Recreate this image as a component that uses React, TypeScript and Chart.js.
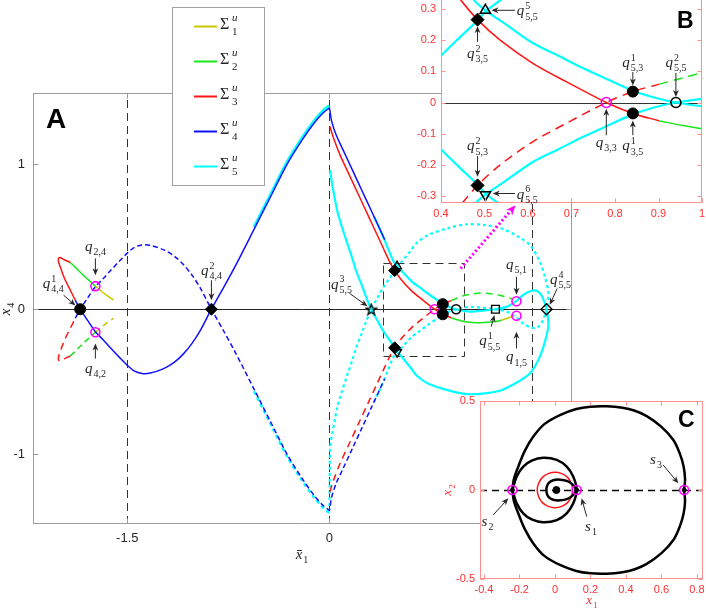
import React, { useEffect, useRef } from 'react';
import { Chart, registerables } from 'chart.js';

Chart.register(...registerables);

type Pt = [number, number];

// ================= Panel A : axes =================
const A_X_RANGE = [-2.2, 1.8];
const A_Y_RANGE = [-1.48, 1.49];
const A_X_TICKS = [-1.5, 0, 1.5];
const A_Y_TICKS = [-1, 0, 1];
const A_VLINES = [-1.5, 0, 1.5];
const A_ZOOM_BOX = [0.4, 1.0, -0.32, 0.32];

// legend
const SIGMA_INDEX = ['1', '2', '3', '4', '5'];
const SIGMA_COLORS = ['#c8c800', '#19e619', '#ff1414', '#1010ff', '#00ffff'];
const MAGENTA = '#ff00ff';

// ================= Panel A : curves (x̄1, x4) =================
// Σ1 (yellow)
const S1_SOLID_LEFT: Pt[] = [[-1.737, 0.159], [-1.69, 0.122], [-1.645, 0.09], [-1.601, 0.062]];
const S1_DASH_LEFT: Pt[] = [[-1.737, -0.159], [-1.69, -0.122], [-1.645, -0.09], [-1.601, -0.062]];
const S1_SOLID_RIGHT: Pt[] = [[1.28, -0.075], [1.32, -0.062], [1.36, -0.05]];

// Σ2 (green)
const S2_SOLID_LEFT: Pt[] = [[-1.923, 0.322], [-1.88, 0.283], [-1.83, 0.238], [-1.78, 0.195], [-1.737, 0.159]];
const S2_DASH_LEFT: Pt[] = [[-1.923, -0.322], [-1.88, -0.283], [-1.83, -0.238], [-1.78, -0.195], [-1.737, -0.159]];
const S2_SOLID_RIGHT: Pt[] = [[0.902, -0.059], [0.956, -0.074], [1.0, -0.084], [1.06, -0.091], [1.121, -0.094], [1.18, -0.09], [1.245, -0.083], [1.28, -0.075]];
const S2_DASH_RIGHT: Pt[] = [[0.902, 0.059], [0.956, 0.079], [1.0, 0.095], [1.06, 0.106], [1.121, 0.111], [1.18, 0.109], [1.245, 0.101], [1.3, 0.088], [1.355, 0.072]];

// Σ3 (red)
const S3_CAP_SOLID: Pt[] = [[-1.923, 0.322], [-1.973, 0.343], [-2.0, 0.356], [-2.012, 0.345], [-2.008, 0.32], [-1.997, 0.29], [-1.98, 0.245], [-1.96, 0.2], [-1.923, 0.131], [-1.886, 0.062]];
const S3_CAP_DASH: Pt[] = [[-1.923, -0.322], [-1.973, -0.343], [-2.0, -0.356], [-2.012, -0.345], [-2.008, -0.32], [-1.997, -0.29], [-1.98, -0.245], [-1.96, -0.2], [-1.923, -0.131], [-1.886, -0.062]];
const S3_SOLID_RIGHT: Pt[] = [[0.003, 1.26], [0.03, 1.18], [0.08, 1.06], [0.15, 0.92], [0.22, 0.78], [0.29, 0.64], [0.35, 0.52], [0.4, 0.42], [0.445, 0.33], [0.484, 0.266], [0.536, 0.2], [0.612, 0.125], [0.689, 0.066], [0.78, 0], [0.841, -0.035], [0.902, -0.059]];
const S3_DASH_RIGHT: Pt[] = [[0.003, -1.26], [0.03, -1.18], [0.08, -1.06], [0.15, -0.92], [0.22, -0.78], [0.29, -0.64], [0.35, -0.52], [0.4, -0.42], [0.445, -0.33], [0.484, -0.266], [0.536, -0.2], [0.612, -0.125], [0.689, -0.066], [0.78, 0], [0.841, 0.035], [0.902, 0.059]];

// Σ4 (blue)
const S4_SOLID: Pt[] = [[-1.886, 0.062], [-1.85, 0], [-1.8, -0.07], [-1.737, -0.155], [-1.68, -0.21], [-1.626, -0.265], [-1.56, -0.33], [-1.502, -0.385], [-1.45, -0.425], [-1.391, -0.443], [-1.33, -0.44], [-1.23, -0.409], [-1.15, -0.365], [-1.082, -0.306], [-1.02, -0.235], [-0.958, -0.145], [-0.876, 0], [-0.785, 0.15], [-0.7, 0.295], [-0.56, 0.55], [-0.44, 0.77], [-0.314, 1.0], [-0.2, 1.17], [-0.116, 1.28], [-0.05, 1.35], [-0.01, 1.38], [0, 1.384], [0.015, 1.3], [0.05, 1.2], [0.1, 1.1], [0.17, 0.96], [0.24, 0.82], [0.31, 0.68], [0.37, 0.56], [0.41, 0.48]];
const S4_DASH: Pt[] = [[-1.886, -0.062], [-1.85, 0], [-1.8, 0.07], [-1.737, 0.155], [-1.68, 0.21], [-1.626, 0.265], [-1.56, 0.33], [-1.502, 0.385], [-1.45, 0.425], [-1.391, 0.443], [-1.33, 0.44], [-1.23, 0.409], [-1.15, 0.365], [-1.082, 0.306], [-1.02, 0.235], [-0.958, 0.145], [-0.876, 0], [-0.785, -0.15], [-0.7, -0.295], [-0.56, -0.55], [-0.44, -0.77], [-0.314, -1.0], [-0.2, -1.17], [-0.116, -1.28], [-0.05, -1.35], [-0.01, -1.38], [0, -1.384], [0.015, -1.3], [0.05, -1.2], [0.1, -1.1], [0.17, -0.96], [0.24, -0.82], [0.31, -0.68], [0.37, -0.56], [0.41, -0.48]];

// Σ5 (cyan)
const S5_HUMP_SOLID: Pt[] = [[-0.56, 0.565], [-0.44, 0.785], [-0.314, 1.015], [-0.2, 1.185], [-0.116, 1.295], [-0.05, 1.365], [-0.01, 1.398], [0, 1.4]];
const S5_HUMP_DASH: Pt[] = [[-0.56, -0.565], [-0.44, -0.785], [-0.314, -1.015], [-0.2, -1.185], [-0.116, -1.295], [-0.05, -1.365], [-0.01, -1.398], [0, -1.4]];
const S5_LOOP_SOLID: Pt[] = [[0.33, 0.64], [0.38, 0.54], [0.43, 0.43], [0.475, 0.33], [0.502, 0.296], [0.55, 0.25], [0.612, 0.19], [0.67, 0.15], [0.727, 0.11], [0.79, 0.07], [0.841, 0.038], [0.89, 0.016], [0.94, 0], [1.0, -0.012], [1.047, -0.016], [1.12, -0.012], [1.232, 0], [1.319, 0.018], [1.388, 0.057], [1.44, 0.1], [1.5, 0.127], [1.542, 0.126], [1.58, 0.085], [1.611, 0], [1.625, -0.11], [1.6, -0.22], [1.56, -0.33], [1.49, -0.44], [1.4, -0.5], [1.27, -0.56], [1.15, -0.58], [1.02, -0.585], [0.883, -0.559], [0.735, -0.513], [0.65, -0.46], [0.6, -0.4], [0.536, -0.328], [0.502, -0.292], [0.484, -0.263], [0.44, -0.205], [0.4, -0.15], [0.36, -0.085], [0.31, 0], [0.27, 0.09], [0.24, 0.166], [0.2, 0.26], [0.166, 0.361], [0.13, 0.46], [0.092, 0.568], [0.06, 0.67], [0.042, 0.752], [0.02, 0.86], [0.005, 0.959]];
const S5_LOOP_DASH: Pt[] = [[0.33, -0.64], [0.38, -0.54], [0.43, -0.43], [0.475, -0.33], [0.502, -0.296], [0.55, -0.25], [0.612, -0.19], [0.67, -0.15], [0.727, -0.11], [0.79, -0.07], [0.841, -0.038], [0.89, -0.016], [0.94, 0], [1.0, 0.012], [1.047, 0.016], [1.12, 0.012], [1.232, 0], [1.319, -0.018], [1.388, -0.057], [1.44, -0.1], [1.5, -0.127], [1.542, -0.126], [1.58, -0.085], [1.611, 0], [1.625, 0.11], [1.6, 0.22], [1.56, 0.33], [1.49, 0.44], [1.4, 0.5], [1.27, 0.56], [1.15, 0.58], [1.02, 0.585], [0.883, 0.559], [0.735, 0.513], [0.65, 0.46], [0.6, 0.4], [0.536, 0.328], [0.502, 0.292], [0.484, 0.263], [0.44, 0.205], [0.4, 0.15], [0.36, 0.085], [0.31, 0], [0.27, -0.09], [0.24, -0.166], [0.2, -0.26], [0.166, -0.361], [0.13, -0.46], [0.092, -0.568], [0.06, -0.67], [0.042, -0.752], [0.02, -0.86], [0.005, -0.959], [0.002, -1.18], [0, -1.38]];

// ================= Special points =================
const PTS_FILLED_CIRCLE: Pt[] = [[-1.85, 0], [0.841, 0.035], [0.841, -0.035]];
const PTS_FILLED_DIAMOND: Pt[] = [[-0.876, 0], [0.484, 0.266], [0.484, -0.266]];
const PTS_MAGENTA: Pt[] = [[-1.737, 0.159], [-1.737, -0.159], [0.78, 0], [1.388, 0.055], [1.388, -0.045]];
const PTS_OPEN_CIRCLE: Pt[] = [[0.94, 0]];
const PTS_OPEN_SQUARE: Pt[] = [[1.232, 0]];
const PTS_OPEN_DIAMOND: Pt[] = [[1.611, 0]];
const PTS_STAR: Pt[] = [[0.31, 0]];
const PTS_TRI_UP: Pt[] = [[0.502, 0.296]];
const PTS_TRI_DOWN: Pt[] = [[0.502, -0.296]];

// ================= Panel B : axes =================
const B_X_RANGE = [0.4, 1.0];
const B_Y_RANGE = [-0.3225, 0.329];
const B_X_TICKS = [0.4, 0.5, 0.6, 0.7, 0.8, 0.9, 1.0];
const B_Y_TICKS = [-0.3, -0.2, -0.1, 0, 0.1, 0.2, 0.3];

// ================= Panel C : (x1, x2) =================
const C_X_RANGE = [-0.4225, 0.834];
const C_Y_RANGE = [-0.5, 0.5];
const C_X_TICKS = [-0.4, -0.2, 0, 0.2, 0.4, 0.6, 0.8];
const C_Y_TICKS = [-0.5, 0, 0.5];
const C_OUTER: Pt[] = [[-0.24, 0], [-0.232, 0.06], [-0.207, 0.131], [-0.17, 0.22], [-0.122, 0.3], [-0.06, 0.37], [0.028, 0.421], [0.12, 0.455], [0.2, 0.468], [0.291, 0.47], [0.38, 0.462], [0.45, 0.445], [0.517, 0.415], [0.6, 0.355], [0.667, 0.281], [0.705, 0.2], [0.725, 0.131], [0.733, 0.06], [0.728, 0], [0.733, -0.06], [0.725, -0.131], [0.705, -0.2], [0.667, -0.281], [0.6, -0.355], [0.517, -0.415], [0.45, -0.445], [0.38, -0.462], [0.291, -0.47], [0.2, -0.468], [0.12, -0.455], [0.028, -0.421], [-0.06, -0.37], [-0.122, -0.3], [-0.17, -0.22], [-0.207, -0.131], [-0.232, -0.06], [-0.24, 0]];
const C_MIDDLE: Pt[] = [[-0.24, 0], [-0.216, 0.075], [-0.179, 0.131], [-0.131, 0.165], [-0.066, 0.181], [0.01, 0.169], [0.066, 0.131], [0.103, 0.075], [0.122, 0], [0.103, -0.075], [0.066, -0.131], [0.01, -0.169], [-0.066, -0.181], [-0.131, -0.165], [-0.179, -0.131], [-0.216, -0.075], [-0.24, 0]];
const C_INNER: Pt[] = [[0.122, 0], [0.1, 0.03], [0.07, 0.05], [0.03, 0.058], [-0.01, 0.055], [-0.035, 0.04], [-0.047, 0.015], [-0.047, -0.015], [-0.035, -0.04], [-0.01, -0.055], [0.03, -0.058], [0.07, -0.05], [0.1, -0.03], [0.122, 0]];
const C_RED_CIRCLE: Pt[] = [[0.1, 0], [0.092, 0.038], [0.071, 0.071], [0.038, 0.092], [0, 0.1], [-0.038, 0.092], [-0.071, 0.071], [-0.092, 0.038], [-0.1, 0], [-0.092, -0.038], [-0.071, -0.071], [-0.038, -0.092], [0, -0.1], [0.038, -0.092], [0.071, -0.071], [0.092, -0.038], [0.1, 0]];
const C_SADDLES: Pt[] = [[0.122, 0], [-0.24, 0], [0.728, 0]];
const C_CENTER: Pt[] = [[0.008, 0]];

// ================= annotations (data coordinates) =================
const A_NOTES = [
  { b: 'q', sup: '1', sub: '4,4', at: [-2.05, 0.17], from: [-1.973, 0.097], to: [-1.885, 0.026] },
  { b: 'q', sup: '', sub: '2,4', at: [-1.737, 0.428], from: [-1.737, 0.35], to: [-1.737, 0.234] },
  { b: 'q', sup: '', sub: '4,2', at: [-1.737, -0.414], from: [-1.737, -0.34], to: [-1.737, -0.237] },
  { b: 'q', sup: '2', sub: '4,4', at: [-0.876, 0.262], from: [-0.876, 0.2], to: [-0.876, 0.062] },
  { b: 'q', sup: '3', sub: '5,5', at: [0.089, 0.166], from: [0.148, 0.11], to: [0.282, 0.021] },
  { b: 'q', sup: '', sub: '5,1', at: [1.388, 0.3], from: [1.388, 0.223], to: [1.388, 0.1] },
  { b: 'q', sup: '', sub: '1,5', at: [1.388, -0.335], from: [1.388, -0.27], to: [1.388, -0.155] },
  { b: 'q', sup: '1', sub: '5,5', at: [1.19, -0.225], from: [1.2, -0.12], to: [1.225, -0.04] },
  { b: 'q', sup: '4', sub: '5,5', at: [1.715, 0.2], from: [1.69, 0.143], to: [1.635, 0.03] },
];
const A_ZOOM_ARROW = { from: [0.973, 0.28], to: [1.381, 0.717] };
const B_NOTES = [
  { b: 'q', sup: '5', sub: '5,5', at: [0.598, 0.291], from: [0.57, 0.296], to: [0.516, 0.296] },
  { b: 'q', sup: '2', sub: '3,5', at: [0.484, 0.155], from: [0.484, 0.195], to: [0.484, 0.245] },
  { b: 'q', sup: '1', sub: '5,3', at: [0.841, 0.125], from: [0.841, 0.098], to: [0.841, 0.055] },
  { b: 'q', sup: '2', sub: '5,5', at: [0.94, 0.125], from: [0.94, 0.095], to: [0.94, 0.018] },
  { b: 'q', sup: '', sub: '3,3', at: [0.78, -0.132], from: [0.78, -0.105], to: [0.78, -0.02] },
  { b: 'q', sup: '1', sub: '3,5', at: [0.841, -0.142], from: [0.841, -0.105], to: [0.841, -0.058] },
  { b: 'q', sup: '2', sub: '5,3', at: [0.484, -0.142], from: [0.484, -0.172], to: [0.484, -0.238] },
  { b: 'q', sup: '6', sub: '5,5', at: [0.598, -0.297], from: [0.57, -0.292], to: [0.519, -0.292] },
];
const C_NOTES = [
  { b: 's', sup: '', sub: '3', at: [0.569, 0.169], from: [0.61, 0.14], to: [0.695, 0.038] },
  { b: 's', sup: '', sub: '2', at: [-0.38, -0.18], from: [-0.348, -0.14], to: [-0.263, -0.047] },
  { b: 's', sup: '', sub: '1', at: [0.203, -0.208], from: [0.179, -0.15], to: [0.15, -0.047] },
];

// ================= helpers =================
const SERIF = '"Liberation Serif", "DejaVu Serif", serif';
const SANS = '"Liberation Sans", Arial, sans-serif';
const TXT = '#262626';

const P = (a: Pt[]) => a.map(([x, y]) => ({ x, y }));

function curve(data: Pt[], color: string, width: number, dash: number[] = [], order = 5, tension = 0.3) {
  return {
    data: P(data), showLine: true, borderColor: color, backgroundColor: color,
    borderWidth: width, borderDash: dash, pointRadius: 0, pointHoverRadius: 0, pointHitRadius: 0,
    tension, order, fill: false, borderJoinStyle: 'round',
  };
}
function marks(data: Pt[], style: any, radius: number, fill: string, stroke: string, bw: number, order = 0, rotation = 0) {
  return {
    data: P(data), showLine: false, pointStyle: style, pointRadius: radius, pointHoverRadius: radius,
    pointBackgroundColor: fill, pointBorderColor: stroke, pointBorderWidth: bw, pointRotation: rotation, order,
  };
}
const fmt = (v: number) => String(Math.round(v * 100) / 100).replace(/^-0$/, '0');

function mkScale(range: number[], ticks: number[], o: any) {
  return {
    type: 'linear', position: o.pos, min: range[0], max: range[1],
    grid: { display: false, drawTicks: false }, border: { display: false },
    ticks: { autoSkip: false, maxRotation: 0, minRotation: 0, padding: o.pad, color: o.color, font: { family: SANS, size: o.size }, callback: (v: number) => fmt(v) },
    afterBuildTicks: (s: any) => { s.ticks = ticks.map((value) => ({ value })); },
    afterFit: (s: any) => {
      if (o.w != null) s.width = o.w;
      if (o.h != null) s.height = o.h;
      s.paddingLeft = 0; s.paddingRight = 0; s.paddingTop = 0; s.paddingBottom = 0;
    },
  };
}

function drawMath(ctx: CanvasRenderingContext2D, cx: number, cy: number, b: string, sup: string, sub: string, color = TXT, bs = 15, ss = 10, baseStyle = 'italic ') {
  ctx.save();
  ctx.fillStyle = color;
  ctx.textAlign = 'left';
  ctx.textBaseline = 'alphabetic';
  const supFont = `${/[a-z]/.test(sup) ? 'italic ' : ''}${ss}px ${SERIF}`;
  const subFont = `${ss}px ${SERIF}`;
  ctx.font = `${baseStyle}${bs}px ${SERIF}`;
  const wb = ctx.measureText(b).width;
  ctx.font = supFont;
  const wsup = sup ? ctx.measureText(sup).width : 0;
  ctx.font = subFont;
  const wsub = sub ? ctx.measureText(sub).width : 0;
  const ws = Math.max(wsup, wsub);
  const x0 = cx - (wb + 1 + ws) / 2;
  const bl = cy + bs * 0.24;
  ctx.font = `${baseStyle}${bs}px ${SERIF}`;
  ctx.fillText(b, x0, bl);
  if (sup) { ctx.font = supFont; ctx.fillText(sup, x0 + wb + 1, bl - bs * 0.42); }
  if (sub) { ctx.font = subFont; ctx.fillText(sub, x0 + wb + 1, bl + bs * 0.28); }
  ctx.restore();
}

function drawArrow(ctx: CanvasRenderingContext2D, x0: number, y0: number, x1: number, y1: number, color = TXT, lw = 1, dash: number[] | null = null, head = 7) {
  const a = Math.atan2(y1 - y0, x1 - x0);
  const c = Math.cos(a), s = Math.sin(a);
  ctx.save();
  ctx.strokeStyle = color; ctx.fillStyle = color; ctx.lineWidth = lw;
  ctx.setLineDash(dash || []);
  ctx.beginPath(); ctx.moveTo(x0, y0); ctx.lineTo(x1 - c * head * 0.6, y1 - s * head * 0.6); ctx.stroke();
  ctx.setLineDash([]);
  const w = head * 0.42;
  const bx = x1 - c * head, by = y1 - s * head;
  const ix = x1 - c * head * 0.7, iy = y1 - s * head * 0.7;
  ctx.beginPath();
  ctx.moveTo(x1, y1);
  ctx.lineTo(bx - s * w, by + c * w);
  ctx.lineTo(ix, iy);
  ctx.lineTo(bx + s * w, by - c * w);
  ctx.closePath(); ctx.fill();
  ctx.restore();
}

function drawFrame(chart: any, color: string, xt: number[], yt: number[], len: number, sides: string) {
  const { ctx, chartArea: ca } = chart;
  const x = chart.scales.x, y = chart.scales.y;
  const L = Math.round(ca.left) + 0.5, R = Math.round(ca.right) - 0.5, T = Math.round(ca.top) + 0.5, B = Math.round(ca.bottom) - 0.5;
  ctx.save();
  ctx.strokeStyle = color; ctx.lineWidth = 1; ctx.setLineDash([]);
  ctx.beginPath();
  if (sides.includes('l')) { ctx.moveTo(L, T - 0.5); ctx.lineTo(L, B + 0.5); }
  if (sides.includes('r')) { ctx.moveTo(R, T - 0.5); ctx.lineTo(R, B + 0.5); }
  if (sides.includes('t')) { ctx.moveTo(L, T); ctx.lineTo(R, T); }
  if (sides.includes('b')) { ctx.moveTo(L, B); ctx.lineTo(R, B); }
  for (const v of xt) {
    const px = Math.round(x.getPixelForValue(v)) + 0.5;
    if (px < L - 1 || px > R + 1) continue;
    ctx.moveTo(px, B); ctx.lineTo(px, B - len);
    if (sides.includes('t')) { ctx.moveTo(px, T); ctx.lineTo(px, T + len); }
  }
  for (const v of yt) {
    const py = Math.round(y.getPixelForValue(v)) + 0.5;
    if (py < T - 1 || py > B + 1) continue;
    ctx.moveTo(L, py); ctx.lineTo(L + len, py);
    if (sides.includes('r')) { ctx.moveTo(R, py); ctx.lineTo(R - len, py); }
  }
  ctx.stroke();
  ctx.restore();
}

function drawNotes(chart: any, notes: any[], bs = 15, ss = 10) {
  const { ctx } = chart;
  const x = chart.scales.x, y = chart.scales.y;
  for (const n of notes) {
    drawArrow(ctx, x.getPixelForValue(n.from[0]), y.getPixelForValue(n.from[1]), x.getPixelForValue(n.to[0]), y.getPixelForValue(n.to[1]), TXT, 1, null, 7);
    drawMath(ctx, x.getPixelForValue(n.at[0]), y.getPixelForValue(n.at[1]), n.b, n.sup, n.sub, TXT, bs, ss);
  }
}

function whiteArea(chart: any) {
  const { ctx, chartArea: ca } = chart;
  ctx.save(); ctx.fillStyle = '#ffffff';
  ctx.fillRect(ca.left, ca.top, ca.right - ca.left, ca.bottom - ca.top);
  ctx.restore();
}

function makeStar(size = 13) {
  const c = document.createElement('canvas');
  c.width = size; c.height = size;
  const g = c.getContext('2d')!;
  const cx = size / 2, cy = size / 2 + 0.6, R = size / 2 - 0.8, r = R * 0.42;
  g.beginPath();
  for (let i = 0; i < 10; i++) {
    const ang = -Math.PI / 2 + (i * Math.PI) / 5;
    const rr = i % 2 === 0 ? R : r;
    g.lineTo(cx + rr * Math.cos(ang), cy + rr * Math.sin(ang));
  }
  g.closePath(); g.lineWidth = 1.3; g.strokeStyle = '#000'; g.stroke();
  return c;
}

const baseOptions = (padding: any, scales: any) => ({
  responsive: false, animation: false, events: [],
  layout: { padding, autoPadding: false },
  plugins: { legend: { display: false }, tooltip: { enabled: false } },
  scales,
});

// ================= Panel A =================
function configA(star: HTMLCanvasElement) {
  const [Y, G, R, Bl, C] = SIGMA_COLORS;
  const datasets = [
    marks(PTS_FILLED_CIRCLE, 'circle', 5.5, '#000', '#000', 1, 0),
    marks(PTS_FILLED_DIAMOND, 'rectRot', 6, '#000', '#000', 1, 0),
    marks(PTS_MAGENTA, 'circle', 4.5, 'rgba(0,0,0,0)', MAGENTA, 1.6, 0),
    marks(PTS_OPEN_CIRCLE, 'circle', 4.5, 'rgba(0,0,0,0)', '#000', 1.6, 0),
    marks(PTS_OPEN_SQUARE, 'rect', 5.5, 'rgba(0,0,0,0)', '#000', 1.4, 0),
    marks(PTS_OPEN_DIAMOND, 'rectRot', 5.5, 'rgba(0,0,0,0)', '#000', 1.4, 0),
    marks(PTS_STAR, star, 6, '#000', '#000', 1, 0),
    marks(PTS_TRI_UP, 'triangle', 5, 'rgba(0,0,0,0)', '#000', 1.4, 0),
    marks(PTS_TRI_DOWN, 'triangle', 5, 'rgba(0,0,0,0)', '#000', 1.4, 0, 180),
    curve(S4_SOLID, Bl, 1.5, [], 1),
    curve(S4_DASH, Bl, 1.5, [5, 3], 1),
    curve(S3_CAP_SOLID, R, 1.5, [], 2),
    curve(S3_CAP_DASH, R, 1.5, [7, 5], 2),
    curve(S3_SOLID_RIGHT, R, 1.5, [], 2),
    curve(S3_DASH_RIGHT, R, 1.5, [7, 5], 2),
    curve(S2_SOLID_LEFT, G, 1.5, [], 3),
    curve(S2_DASH_LEFT, G, 1.5, [6, 4], 3),
    curve(S2_SOLID_RIGHT, G, 1.5, [], 3),
    curve(S2_DASH_RIGHT, G, 1.5, [7, 5], 3),
    curve(S1_SOLID_LEFT, Y, 1.5, [], 3),
    curve(S1_DASH_LEFT, Y, 1.5, [6, 4], 3),
    curve(S1_SOLID_RIGHT, Y, 1.5, [], 3),
    curve(S5_HUMP_SOLID, C, 3, [], 4),
    curve(S5_HUMP_DASH, C, 2.5, [4, 3], 4),
    curve(S5_LOOP_SOLID, C, 2.2, [], 4),
    curve(S5_LOOP_DASH, C, 2.2, [3, 3], 4),
  ];
  const plugin = {
    id: 'panelA',
    beforeDatasetsDraw(chart: any) {
      const { ctx, chartArea: ca } = chart;
      const x = chart.scales.x, y = chart.scales.y;
      ctx.save();
      ctx.beginPath(); ctx.rect(ca.left, ca.top, ca.right - ca.left, ca.bottom - ca.top); ctx.clip();
      ctx.lineWidth = 1; ctx.strokeStyle = '#262626';
      const y0 = Math.round(y.getPixelForValue(0)) + 0.5;
      ctx.beginPath(); ctx.moveTo(ca.left, y0); ctx.lineTo(ca.right, y0); ctx.stroke();
      ctx.setLineDash([8, 5]); ctx.strokeStyle = '#333';
      ctx.beginPath();
      for (const v of A_VLINES) {
        const px = Math.round(x.getPixelForValue(v)) + 0.5;
        ctx.moveTo(px, ca.bottom); ctx.lineTo(px, ca.top);
      }
      ctx.stroke();
      const [bx0, bx1, by0, by1] = A_ZOOM_BOX;
      const l = Math.round(x.getPixelForValue(bx0)) + 0.5, r = Math.round(x.getPixelForValue(bx1)) + 0.5;
      const t = Math.round(y.getPixelForValue(by1)) + 0.5, b = Math.round(y.getPixelForValue(by0)) + 0.5;
      ctx.strokeRect(l, t, r - l, b - t);
      ctx.restore();
    },
    afterDatasetsDraw(chart: any) {
      const { ctx } = chart;
      const x = chart.scales.x, y = chart.scales.y;
      drawFrame(chart, '#9d9d9d', A_X_TICKS, A_Y_TICKS, 5, 'lrtb');
      drawNotes(chart, A_NOTES);
      drawArrow(ctx, x.getPixelForValue(A_ZOOM_ARROW.from[0]), y.getPixelForValue(A_ZOOM_ARROW.from[1]),
        x.getPixelForValue(A_ZOOM_ARROW.to[0]), y.getPixelForValue(A_ZOOM_ARROW.to[1]), MAGENTA, 3, [2, 2.5], 10);
    },
    afterDraw(chart: any) {
      const { ctx } = chart;
      // legend box
      ctx.save();
      ctx.fillStyle = '#fff'; ctx.fillRect(172, 7, 92, 178);
      ctx.strokeStyle = '#a0a0a0'; ctx.lineWidth = 1; ctx.strokeRect(172.5, 7.5, 92, 178);
      SIGMA_INDEX.forEach((s, i) => {
        const ly = 26 + 35 * i;
        ctx.strokeStyle = SIGMA_COLORS[i]; ctx.lineWidth = 2;
        ctx.beginPath(); ctx.moveTo(194, ly + 0.5); ctx.lineTo(217, ly + 0.5); ctx.stroke();
        ctx.fillStyle = TXT; ctx.textAlign = 'left'; ctx.textBaseline = 'alphabetic';
        ctx.font = `16px ${SERIF}`; ctx.fillText('Σ', 220, ly + 3);
        ctx.font = `italic 11px ${SERIF}`; ctx.fillText('u', 232, ly - 5);
        ctx.font = `11px ${SERIF}`; ctx.fillText(s, 232, ly + 9);
      });
      // panel letter
      ctx.fillStyle = '#000'; ctx.font = `bold 28px ${SANS}`; ctx.fillText('A', 46, 128);
      ctx.restore();
      // axis titles
      drawMath(ctx, 302, 555, 'x\u0304', '', '1', TXT, 15, 10);
      ctx.save(); ctx.translate(6, 309); ctx.rotate(-Math.PI / 2);
      drawMath(ctx, 0, 0, 'x', '', '4', TXT, 15, 10);
      ctx.restore();
    },
  };
  return {
    type: 'scatter',
    data: { datasets },
    options: baseOptions({ top: 93, right: 134, left: 0, bottom: 0 }, {
      x: mkScale(A_X_RANGE, A_X_TICKS, { pos: 'bottom', pad: 7, color: TXT, size: 13, h: 85 }),
      y: mkScale(A_Y_RANGE, A_Y_TICKS, { pos: 'left', pad: 8, color: TXT, size: 13, w: 33 }),
    }),
    plugins: [plugin],
  };
}

// ================= Panel B =================
const RED_AXIS = '#ff3030';
const RED_FRAME = '#ff9090';
function configB() {
  const [, G, R, , C] = SIGMA_COLORS;
  const datasets = [
    marks(PTS_FILLED_CIRCLE, 'circle', 5.5, '#000', '#000', 1, 0),
    marks(PTS_FILLED_DIAMOND, 'rectRot', 6.5, '#000', '#000', 1, 0),
    marks(PTS_MAGENTA, 'circle', 5, 'rgba(0,0,0,0)', MAGENTA, 1.6, 0),
    marks(PTS_OPEN_CIRCLE, 'circle', 5, 'rgba(0,0,0,0)', '#000', 1.6, 0),
    marks(PTS_TRI_UP, 'triangle', 6, 'rgba(0,0,0,0)', '#000', 1.5, 0),
    marks(PTS_TRI_DOWN, 'triangle', 6, 'rgba(0,0,0,0)', '#000', 1.5, 0, 180),
    curve(S3_SOLID_RIGHT, R, 1.5, [], 2),
    curve(S3_DASH_RIGHT, R, 1.5, [9, 6], 2),
    curve(S2_SOLID_RIGHT, G, 1.5, [], 3),
    curve(S2_DASH_RIGHT, G, 1.5, [9, 6], 3),
    curve(S5_LOOP_SOLID, C, 2.2, [], 4),
    curve(S5_LOOP_DASH, C, 2.2, [], 4),
  ];
  const plugin = {
    id: 'panelB',
    beforeDraw(chart: any) { whiteArea(chart); },
    beforeDatasetsDraw(chart: any) {
      const { ctx, chartArea: ca } = chart;
      const y0 = Math.round(chart.scales.y.getPixelForValue(0)) + 0.5;
      ctx.save(); ctx.strokeStyle = '#333'; ctx.lineWidth = 1;
      ctx.beginPath(); ctx.moveTo(ca.left, y0); ctx.lineTo(ca.right, y0); ctx.stroke(); ctx.restore();
    },
    afterDatasetsDraw(chart: any) {
      drawFrame(chart, RED_FRAME, B_X_TICKS, B_Y_TICKS, 4, 'lrb');
      drawNotes(chart, B_NOTES);
    },
    afterDraw(chart: any) {
      const { ctx } = chart;
      ctx.save(); ctx.fillStyle = '#000'; ctx.font = `bold 23px ${SANS}`; ctx.textBaseline = 'alphabetic';
      ctx.fillText('B', 277, 28); ctx.restore();
    },
  };
  return {
    type: 'scatter',
    data: { datasets },
    options: baseOptions({ top: 0, right: 4, left: 0, bottom: 0 }, {
      x: mkScale(B_X_RANGE, B_X_TICKS, { pos: 'bottom', pad: 4, color: RED_AXIS, size: 11, h: 22 }),
      y: mkScale(B_Y_RANGE, B_Y_TICKS, { pos: 'left', pad: 5, color: RED_AXIS, size: 11, w: 41 }),
    }),
    plugins: [plugin],
  };
}

// ================= Panel C =================
function configC() {
  const datasets = [
    marks(C_CENTER, 'circle', 3.5, '#000', '#000', 1, 0),
    marks(C_SADDLES, 'circle', 2, '#000', '#000', 1, 0),
    marks(C_SADDLES, 'circle', 4.5, 'rgba(0,0,0,0)', MAGENTA, 1.6, 1),
    curve(C_RED_CIRCLE, '#ff1414', 1.5, [], 3, 0.35),
    curve(C_INNER, '#000', 2.5, [], 2, 0.35),
    curve(C_MIDDLE, '#000', 2.5, [], 2, 0.35),
    curve(C_OUTER, '#000', 2.5, [], 2, 0.35),
  ];
  const plugin = {
    id: 'panelC',
    beforeDraw(chart: any) { whiteArea(chart); },
    beforeDatasetsDraw(chart: any) {
      const { ctx, chartArea: ca } = chart;
      const y0 = Math.round(chart.scales.y.getPixelForValue(0)) + 0.5;
      ctx.save(); ctx.strokeStyle = '#000'; ctx.lineWidth = 1.5; ctx.setLineDash([7, 5]);
      ctx.beginPath(); ctx.moveTo(ca.left, y0); ctx.lineTo(ca.right, y0); ctx.stroke(); ctx.restore();
    },
    afterDatasetsDraw(chart: any) {
      drawFrame(chart, RED_FRAME, C_X_TICKS, C_Y_TICKS, 4, 'lrtb');
      drawNotes(chart, C_NOTES, 15, 10);
    },
    afterDraw(chart: any) {
      const { ctx } = chart;
      ctx.save(); ctx.fillStyle = '#000'; ctx.font = `bold 23px ${SANS}`; ctx.textBaseline = 'alphabetic';
      ctx.fillText('C', 242, 37); ctx.restore();
      drawMath(ctx, 156, 211, 'x', '', '1', RED_AXIS, 13, 9);
      ctx.save(); ctx.translate(12, 100); ctx.rotate(-Math.PI / 2);
      drawMath(ctx, 0, 0, 'x', '', '2', RED_AXIS, 13, 9);
      ctx.restore();
    },
  };
  return {
    type: 'scatter',
    data: { datasets },
    options: baseOptions({ top: 11, right: 3, left: 0, bottom: 0 }, {
      x: mkScale(C_X_RANGE, C_X_TICKS, { pos: 'bottom', pad: 4, color: RED_AXIS, size: 11, h: 30 }),
      y: mkScale(C_Y_RANGE, C_Y_TICKS, { pos: 'left', pad: 5, color: RED_AXIS, size: 11, w: 44 }),
    }),
    plugins: [plugin],
  };
}

export default function App() {
  const refA = useRef<HTMLCanvasElement>(null);
  const refB = useRef<HTMLCanvasElement>(null);
  const refC = useRef<HTMLCanvasElement>(null);
  useEffect(() => {
    const star = makeStar();
    const a = new Chart(refA.current as any, configA(star) as any);
    const b = new Chart(refB.current as any, configB() as any);
    const c = new Chart(refC.current as any, configC() as any);
    return () => { a.destroy(); b.destroy(); c.destroy(); };
  }, []);
  return (
    <div style={{ position: 'absolute', left: 0, top: 0, width: 706, height: 609, background: '#fff', overflow: 'hidden' }}>
      <canvas ref={refA} width={706} height={609} style={{ position: 'absolute', left: 0, top: 0 }} />
      <canvas ref={refB} width={306} height={225} style={{ position: 'absolute', left: 400, top: 0 }} />
      <canvas ref={refC} width={270} height={219} style={{ position: 'absolute', left: 436, top: 390 }} />
    </div>
  );
}
